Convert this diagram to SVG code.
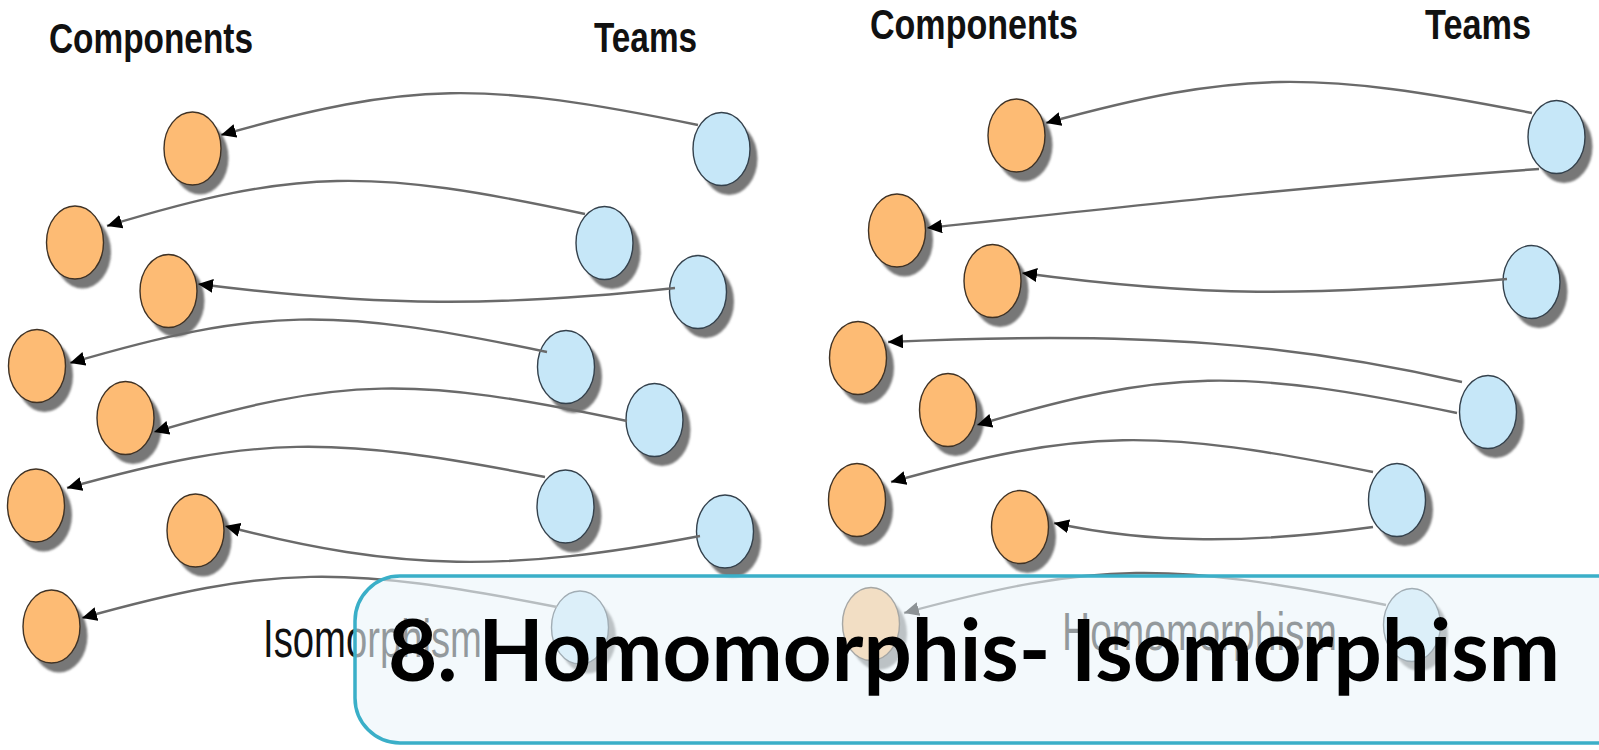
<svg xmlns="http://www.w3.org/2000/svg" width="1599" height="750" viewBox="0 0 1599 750">
  <defs>
    <style>
      .comp { fill: #FDBB74; stroke: #3f3225; stroke-width: 1.4; }
      .team { fill: #C6E7F8; stroke: #34414c; stroke-width: 1.4; }
      .shadow { fill: #777; filter: url(#soft); }
      .link { fill: none; stroke: #6a6a6a; stroke-width: 2.4; marker-end: url(#arrow); }
      .head { font-family: "Liberation Sans", Arial, sans-serif; font-weight: bold; font-size: 42px; fill: #111; }
      .kind { font-family: "Liberation Sans", Arial, sans-serif; font-size: 53px; fill: #111; }
      .title { font-family: Lato, "Noto Sans", sans-serif; font-weight: bold; font-size: 86px; fill: #000; }
    </style>
    <filter id="soft" x="-30%" y="-30%" width="160%" height="160%">
      <feGaussianBlur stdDeviation="1.3"/>
    </filter>
    <marker id="arrow" markerUnits="userSpaceOnUse" markerWidth="16" markerHeight="14" refX="15" refY="7" orient="auto">
      <path d="M0,0 L15,7 L0,14 z" fill="#000"/>
    </marker>
  </defs>

  <rect width="1599" height="750" fill="#fff"/>

  <!-- column headings -->
  <text class="head" x="49" y="53" textLength="204" lengthAdjust="spacingAndGlyphs">Components</text>
  <text class="head" x="594" y="52" textLength="103" lengthAdjust="spacingAndGlyphs">Teams</text>
  <text class="head" x="870" y="39" textLength="208" lengthAdjust="spacingAndGlyphs">Components</text>
  <text class="head" x="1425" y="39" textLength="106" lengthAdjust="spacingAndGlyphs">Teams</text>

  <!-- left diagram: components -->
  <g id="lc1"><ellipse class="shadow" cx="200" cy="158" rx="28.5" ry="36.5"/><ellipse class="comp" cx="192.5" cy="148.5" rx="28.5" ry="36.5"/></g>
  <g id="lc2"><ellipse class="shadow" cx="82.5" cy="252" rx="28.5" ry="36.5"/><ellipse class="comp" cx="75" cy="242.5" rx="28.5" ry="36.5"/></g>
  <g id="lc3"><ellipse class="shadow" cx="176" cy="300.5" rx="28.5" ry="36.5"/><ellipse class="comp" cx="168.5" cy="291" rx="28.5" ry="36.5"/></g>
  <g id="lc4"><ellipse class="shadow" cx="44.5" cy="375.5" rx="28.5" ry="36.5"/><ellipse class="comp" cx="37" cy="366" rx="28.5" ry="36.5"/></g>
  <g id="lc5"><ellipse class="shadow" cx="133" cy="427.5" rx="28.5" ry="36.5"/><ellipse class="comp" cx="125.5" cy="418" rx="28.5" ry="36.5"/></g>
  <g id="lc6"><ellipse class="shadow" cx="43.5" cy="515" rx="28.5" ry="36.5"/><ellipse class="comp" cx="36" cy="505.5" rx="28.5" ry="36.5"/></g>
  <g id="lc7"><ellipse class="shadow" cx="203" cy="540" rx="28.5" ry="36.5"/><ellipse class="comp" cx="195.5" cy="530.5" rx="28.5" ry="36.5"/></g>
  <g id="lc8"><ellipse class="shadow" cx="59" cy="636" rx="28.5" ry="36.5"/><ellipse class="comp" cx="51.5" cy="626.5" rx="28.5" ry="36.5"/></g>

  <!-- left diagram: teams -->
  <g id="lt1"><ellipse class="shadow" cx="729" cy="158.5" rx="28.5" ry="36.5"/><ellipse class="team" cx="721.5" cy="149" rx="28.5" ry="36.5"/></g>
  <g id="lt2"><ellipse class="shadow" cx="612" cy="252.5" rx="28.5" ry="36.5"/><ellipse class="team" cx="604.5" cy="243" rx="28.5" ry="36.5"/></g>
  <g id="lt3"><ellipse class="shadow" cx="705.5" cy="301.5" rx="28.5" ry="36.5"/><ellipse class="team" cx="698" cy="292" rx="28.5" ry="36.5"/></g>
  <g id="lt4"><ellipse class="shadow" cx="573.5" cy="376.5" rx="28.5" ry="36.5"/><ellipse class="team" cx="566" cy="367" rx="28.5" ry="36.5"/></g>
  <g id="lt5"><ellipse class="shadow" cx="662" cy="429.5" rx="28.5" ry="36.5"/><ellipse class="team" cx="654.5" cy="420" rx="28.5" ry="36.5"/></g>
  <g id="lt6"><ellipse class="shadow" cx="573" cy="516" rx="28.5" ry="36.5"/><ellipse class="team" cx="565.5" cy="506.5" rx="28.5" ry="36.5"/></g>
  <g id="lt7"><ellipse class="shadow" cx="732.5" cy="541" rx="28.5" ry="36.5"/><ellipse class="team" cx="725" cy="531.5" rx="28.5" ry="36.5"/></g>
  <g id="lt8"><ellipse class="shadow" cx="587.5" cy="637" rx="28.5" ry="36.5"/><ellipse class="team" cx="580" cy="627.5" rx="28.5" ry="36.5"/></g>

  <!-- right diagram: components -->
  <g id="rc1"><ellipse class="shadow" cx="1024" cy="145" rx="28.5" ry="36.5"/><ellipse class="comp" cx="1016.5" cy="135.5" rx="28.5" ry="36.5"/></g>
  <g id="rc2"><ellipse class="shadow" cx="904.5" cy="240" rx="28.5" ry="36.5"/><ellipse class="comp" cx="897" cy="230.5" rx="28.5" ry="36.5"/></g>
  <g id="rc3"><ellipse class="shadow" cx="1000" cy="290.5" rx="28.5" ry="36.5"/><ellipse class="comp" cx="992.5" cy="281" rx="28.5" ry="36.5"/></g>
  <g id="rc4"><ellipse class="shadow" cx="865.5" cy="367.5" rx="28.5" ry="36.5"/><ellipse class="comp" cx="858" cy="358" rx="28.5" ry="36.5"/></g>
  <g id="rc5"><ellipse class="shadow" cx="955.5" cy="419.5" rx="28.5" ry="36.5"/><ellipse class="comp" cx="948" cy="410" rx="28.5" ry="36.5"/></g>
  <g id="rc6"><ellipse class="shadow" cx="864.5" cy="509.5" rx="28.5" ry="36.5"/><ellipse class="comp" cx="857" cy="500" rx="28.5" ry="36.5"/></g>
  <g id="rc7"><ellipse class="shadow" cx="1027.5" cy="536.5" rx="28.5" ry="36.5"/><ellipse class="comp" cx="1020" cy="527" rx="28.5" ry="36.5"/></g>
  <g id="rc8"><ellipse class="shadow" cx="878.5" cy="633.5" rx="28.5" ry="36.5"/><ellipse class="comp" cx="871" cy="624" rx="28.5" ry="36.5"/></g>

  <!-- right diagram: teams -->
  <g id="rt1"><ellipse class="shadow" cx="1564" cy="146.5" rx="28.5" ry="36.5"/><ellipse class="team" cx="1556.5" cy="137" rx="28.5" ry="36.5"/></g>
  <g id="rt2"><ellipse class="shadow" cx="1539" cy="291.5" rx="28.5" ry="36.5"/><ellipse class="team" cx="1531.5" cy="282" rx="28.5" ry="36.5"/></g>
  <g id="rt3"><ellipse class="shadow" cx="1495.5" cy="421.5" rx="28.5" ry="36.5"/><ellipse class="team" cx="1488" cy="412" rx="28.5" ry="36.5"/></g>
  <g id="rt4"><ellipse class="shadow" cx="1404.5" cy="509.5" rx="28.5" ry="36.5"/><ellipse class="team" cx="1397" cy="500" rx="28.5" ry="36.5"/></g>
  <g id="rt5"><ellipse class="shadow" cx="1419.5" cy="634.5" rx="28.5" ry="36.5"/><ellipse class="team" cx="1412" cy="625" rx="28.5" ry="36.5"/></g>

  <!-- connectors: team to component -->
  <g id="connectors">
    <path class="link" d="M698,125 C483,81 412,81 221,135"/>
    <path class="link" d="M585,214 C370,168 298,168 107,226"/>
    <path class="link" d="M675,288 C500,307 380,307 198,284"/>
    <path class="link" d="M547,352 C332,307 261,307 70,363"/>
    <path class="link" d="M627,421 C414,376 343,376 154,432"/>
    <path class="link" d="M545,477 C330,435 258,435 67,488"/>
    <path class="link" d="M700,536 C510,572 400,572 225,526"/>
    <path class="link" d="M557,607 C343,565 272,565 82,618"/>

    <path class="link" d="M1532,113 C1313,70 1240,70 1046,123"/>
    <path class="link" d="M1539,169 C1340,183 1140,205 927,228"/>
    <path class="link" d="M1507,279 C1310,297 1200,297 1022,273"/>
    <path class="link" d="M1462,382 C1300,345 1150,330 888,342"/>
    <path class="link" d="M1457,413 C1241,368 1169,368 977,425"/>
    <path class="link" d="M1373,472 C1156,428 1084,428 891,482"/>
    <path class="link" d="M1373,527 C1250,544 1150,544 1054,523"/>
    <path class="link" d="M1386,605 C1169,561 1097,561 904,613"/>
  </g>

  <!-- diagram captions -->
  <text class="kind" x="263" y="657" textLength="219" lengthAdjust="spacingAndGlyphs">Isomorphism</text>
  <text class="kind" x="1062" y="650" textLength="275" lengthAdjust="spacingAndGlyphs">Homomorphism</text>

  <!-- title banner -->
  <g id="banner">
    <rect x="355" y="576" width="1330" height="167" rx="45" ry="45" fill="#EBF5FA" fill-opacity="0.6" stroke="#3AAFC8" stroke-width="3.5"/>
    <text class="title" x="388" y="681" textLength="1172" lengthAdjust="spacingAndGlyphs">8. Homomorphis- Isomorphism</text>
  </g>
</svg>
